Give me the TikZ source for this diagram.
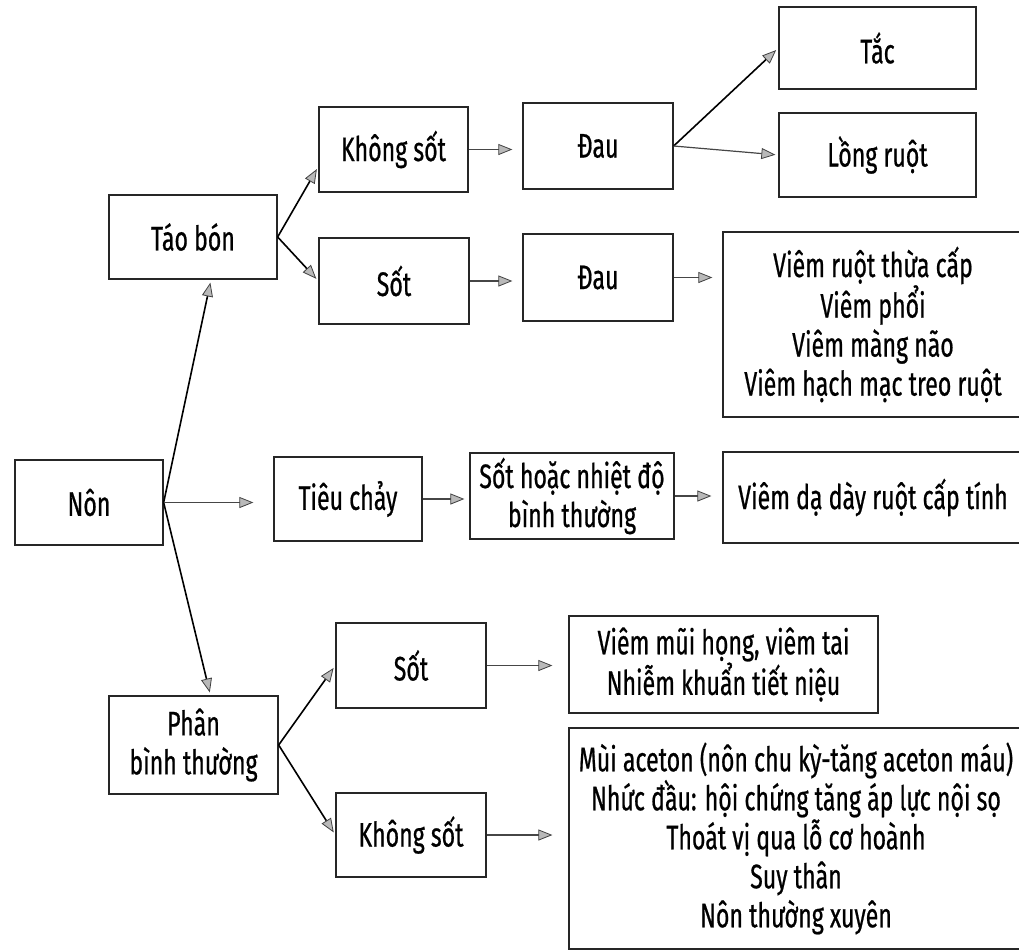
\documentclass[tikz,border=0pt]{standalone}
\usepackage{fontspec}
\setmainfont[FakeStretch=0.68, FakeBold=0.6]{Fira Sans}
\usetikzlibrary{arrows.meta}

\begin{document}
\begin{tikzpicture}[x=1pt, y=-1pt,
  box/.style={draw=black!85, line width=1.3pt, align=center, inner sep=2pt,
    font=\fontsize{34}{39}\selectfont},
  tip/.style={-{Triangle[length=14pt, width=11pt, color=black!75, fill=gray!55, line width=0.8pt]}},
  link/.style={tip, color=gray!55!black, line width=1.2pt},
  branch/.style={tip, color=black, line width=1.6pt, shorten >=3pt}]
  \useasboundingbox (0,0) rectangle (1019,951);

  \node[box, minimum width=148pt, minimum height=85pt] (non) at (89,502.5) {Nôn};
  \node[box, minimum width=168pt, minimum height=84pt] (taobon) at (193,237) {Táo bón};
  \node[box, minimum width=169pt, minimum height=98pt] (phan) at (193.5,745) {Phân\\bình thường};

  \node[box, minimum width=149pt, minimum height=85pt] (khongsot) at (393.5,149.5) {Không sốt};
  \node[box, minimum width=150pt, minimum height=86pt] (sot) at (394,281) {Sốt};
  \node[box, minimum width=150pt, minimum height=86pt] (dau) at (598,146) {Đau};
  \node[box, minimum width=150pt, minimum height=87pt] (daub) at (598,277.5) {Đau};
  \node[box, minimum width=197pt, minimum height=82pt] (tac) at (877.5,48) {Tắc};
  \node[box, minimum width=197pt, minimum height=84pt] (longruot) at (877.5,155) {Lồng ruột};
  \node[box, minimum width=300pt, minimum height=185pt] (viemruot) at (873,324.5)
    {Viêm ruột thừa cấp\\Viêm phổi\\Viêm màng não\\Viêm hạch mạc treo ruột};

  \node[box, minimum width=148pt, minimum height=84pt] (tieuchay) at (348,499) {Tiêu chảy};
  \node[box, minimum width=204pt, minimum height=86pt] (sothoac) at (572,496) {Sốt hoặc nhiệt độ\\bình thường};
  \node[box, minimum width=300pt, minimum height=91pt] (viemdaday) at (873,497.5) {Viêm dạ dày ruột cấp tính};

  \node[box, minimum width=150pt, minimum height=85pt] (sotb) at (411,665.5) {Sốt};
  \node[box, minimum width=150pt, minimum height=84pt] (khongsotb) at (411,835) {Không sốt};
  \node[box, minimum width=309pt, minimum height=97pt] (viemmui) at (723.5,664.5)
    {Viêm mũi họng, viêm tai\\Nhiễm khuẩn tiết niệu};
  \node[box, minimum width=454pt, minimum height=221pt] (aceton) at (796,838.5)
    {Mùi aceton (nôn chu kỳ-tăng aceton máu)\\Nhức đầu: hội chứng tăng áp lực nội sọ\\Thoát vị qua lỗ cơ hoành\\Suy thân\\Nôn thường xuyên};

  \path[branch]
  (non.east) edge ([xshift=18pt]taobon.south)
             edge ([xshift=17pt]phan.north)
  (taobon.east) edge ([yshift=-17pt]khongsot.west)
                edge (sot.west)
  (dau.east) edge (tac.west)
  (phan.east) edge (sotb.west)
              edge (khongsotb.west);
  \path[link]
  (non.east) edge[shorten >=20pt] (non.east -| tieuchay.west)
  (tieuchay.east) edge[shorten >=5pt] (tieuchay.east -| sothoac.west)
  (sothoac.east) edge[shorten >=11pt] (sothoac.east -| viemdaday.west)
  (khongsot.east) edge[shorten >=10pt] (khongsot.east -| dau.west)
  (sot.east) edge[shorten >=10pt] (sot.east -| daub.west)
  (dau.east) edge[shorten >=3pt] (longruot.west)
  (daub.east) edge[shorten >=10pt] (daub.east -| viemruot.west)
  (sotb.east) edge[shorten >=16pt] (sotb.east -| viemmui.west)
  (khongsotb.east) edge[shorten >=16pt] (khongsotb.east -| aceton.west);
\end{tikzpicture}
\end{document}
